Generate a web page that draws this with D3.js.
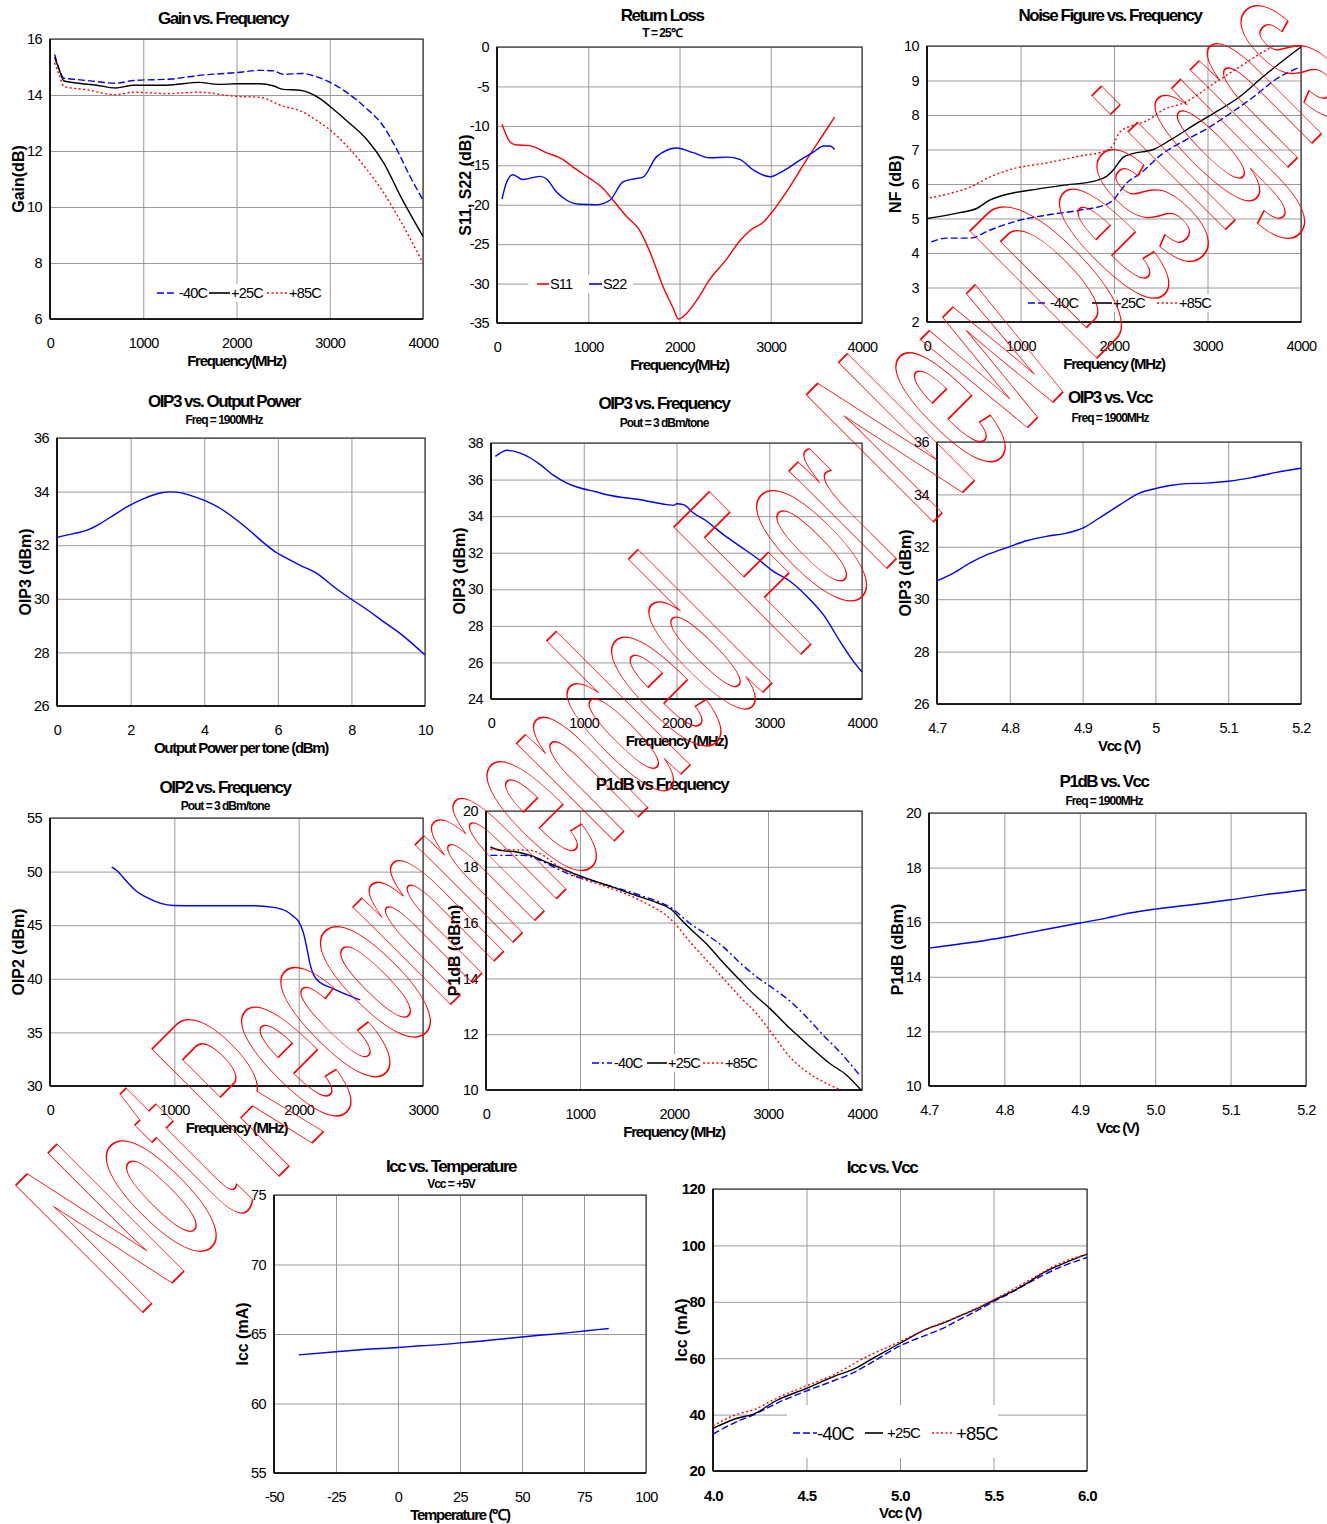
<!DOCTYPE html>
<html>
<head>
<meta charset="utf-8">
<script src="https://cdn.jsdelivr.net/npm/d3@7"></script>
<style>
  body { margin: 0; background: #fff; }
  svg { display: block; font-family: "Liberation Sans", Arial, sans-serif; }
  .grid line { stroke: #9a9a9a; stroke-width: 1; }
  .grid path { display: none; }
  .ax path, .ax line { display: none; }
  .ax text { font-size: 14.5px; letter-spacing: -0.6px; fill: #000; }
</style>
</head>
<body>
<svg id="chart" width="1327" height="1524"></svg>
<script>
// ---- data ----
const freqTicks4k = [0, 1000, 2000, 3000, 4000];
const freqTicks3k = [0, 1000, 2000, 3000];
const vccTicksA = [4.7, 4.8, 4.9, 5.0, 5.1, 5.2];
const vccLabelsA = ["4.7", "4.8", "4.9", "5", "5.1", "5.2"];
const vccLabelsB = ["4.7", "4.8", "4.9", "5.0", "5.1", "5.2"];
const vccTicksC = [4.0, 4.5, 5.0, 5.5, 6.0];
const vccLabelsC = ["4.0", "4.5", "5.0", "5.5", "6.0"];
const poutTicks = [0, 2, 4, 6, 8, 10];
const tempTicks = [-50, -25, 0, 25, 50, 75, 100];
const tempLabels = ["-50", "-25", "0", "25", "50", "75", "100"];
const tempCategories = ["-40C", "+25C", "+85C"];

const gainM40 = [[50,15.45],[100,14.9],[150,14.6],[300,14.55],[500,14.48],[700,14.42],[900,14.52],[1300,14.57],[1600,14.7],[2000,14.8],[2250,14.88],[2400,14.86],[2500,14.74],[2700,14.77],[2850,14.66],[3000,14.46],[3200,14.05],[3400,13.5],[3550,13.0],[3720,12.05],[3860,11.1],[4000,10.25]];
const gain25 = [[50,15.35],[100,14.9],[150,14.5],[280,14.43],[500,14.35],[700,14.25],[900,14.35],[1250,14.35],[1600,14.45],[1800,14.38],[2000,14.4],[2250,14.4],[2400,14.32],[2500,14.2],[2680,14.17],[2900,13.86],[3000,13.6],[3200,13.03],[3400,12.4],[3580,11.57],[3760,10.38],[4000,8.95]];
const gain85 = [[50,15.15],[100,14.7],[150,14.3],[390,14.19],[700,14.01],[900,14.1],[1250,14.05],[1600,14.1],[2000,13.95],[2250,13.92],[2500,13.6],[2680,13.44],[2900,13.0],[3000,12.76],[3220,12.05],[3400,11.33],[3580,10.5],[3760,9.49],[4000,8.0]];

const s11 = [[55,-9.8],[140,-12.0],[200,-12.4],[360,-12.5],[540,-13.4],[720,-14.25],[830,-15.2],[1020,-16.7],[1160,-17.9],[1270,-19.4],[1420,-21.5],[1560,-23.2],[1680,-26.1],[1820,-30.4],[1930,-33.1],[1990,-34.5],[2040,-34.2],[2190,-32.1],[2330,-29.5],[2510,-27.0],[2660,-24.6],[2770,-23.3],[2920,-22.2],[3030,-20.7],[3210,-17.7],[3390,-14.35],[3580,-11.0],[3700,-8.9]];
const s22 = [[55,-19.3],[100,-17.3],[175,-16.2],[280,-16.8],[470,-16.4],[540,-16.7],[650,-18.35],[760,-19.4],[910,-19.95],[1090,-20.0],[1240,-19.4],[1380,-17.1],[1490,-16.75],[1600,-16.5],[1750,-13.9],[1970,-12.8],[2150,-13.4],[2330,-14.05],[2520,-13.97],[2660,-14.25],[2810,-15.6],[2990,-16.45],[3140,-15.7],[3320,-14.35],[3470,-13.3],[3580,-12.55],[3650,-12.55],[3700,-13.0]];

const nfM40 = [[45,4.32],[210,4.43],[460,4.43],[670,4.66],[990,4.95],[1280,5.1],[1630,5.24],[1920,5.41],[1990,5.53],[2060,5.77],[2130,6.01],[2280,6.3],[2520,6.88],[2770,7.28],[2990,7.6],[3240,8.04],[3490,8.52],[3740,9.05],[3990,9.39]];
const nf25 = [[0,5.0],[350,5.17],[530,5.29],[670,5.53],[920,5.74],[1100,5.82],[1450,5.96],[1810,6.1],[1920,6.22],[1990,6.4],[2100,6.78],[2200,6.88],[2420,7.0],[2600,7.27],[2880,7.75],[3060,8.04],[3340,8.52],[3590,9.1],[3810,9.58],[4000,9.97]];
const nf85 = [[30,5.6],[210,5.7],[460,5.91],[670,6.2],[920,6.44],[1280,6.61],[1630,6.81],[1920,6.97],[1990,7.12],[2060,7.5],[2200,7.7],[2350,7.83],[2520,8.14],[2770,8.38],[3060,8.9],[3340,9.39],[3630,9.89],[3700,10.0]];

const oip3Pout = [[0,32.29],[0.45,32.43],[0.82,32.56],[1.18,32.81],[1.54,33.12],[1.9,33.43],[2.36,33.74],[2.81,33.95],[3.08,33.99],[3.35,33.96],[3.62,33.86],[3.99,33.68],[4.44,33.37],[4.89,32.93],[5.25,32.53],[5.53,32.19],[5.98,31.71],[6.16,31.57],[6.61,31.25],[7.07,30.94],[7.52,30.45],[7.97,30.01],[8.42,29.6],[8.88,29.14],[9.33,28.7],[10,27.9]];
const oip3Freq = [[47,37.27],[100,37.45],[172,37.6],[316,37.45],[424,37.18],[531,36.82],[675,36.23],[819,35.81],[962,35.54],[1142,35.32],[1250,35.17],[1609,34.9],[1896,34.63],[1968,34.59],[2004,34.68],[2075,34.63],[2183,34.17],[2327,33.72],[2506,32.99],[2686,32.35],[2865,31.71],[3045,30.98],[3224,30.44],[3404,29.62],[3583,28.61],[3763,27.15],[3907,26.06],[4000,25.48]];
const oip3Vcc = [[4.7,30.7],[4.722,30.99],[4.745,31.38],[4.768,31.69],[4.8,32.01],[4.823,32.23],[4.85,32.4],[4.878,32.52],[4.9,32.71],[4.923,33.1],[4.951,33.6],[4.978,34.05],[5.0,34.22],[5.02,34.34],[5.042,34.41],[5.07,34.43],[5.1,34.5],[5.134,34.65],[5.166,34.84],[5.2,35.0]];

const oip2 = [[496,50.42],[537,50.11],[617,49.08],[698,48.15],[778,47.59],[885,47.06],[993,46.84],[1207,46.81],[1637,46.81],[1798,46.66],[1905,46.28],[1959,45.82],[1999,45.35],[2039,44.26],[2066,42.86],[2093,41.3],[2120,40.37],[2173,39.65],[2254,39.21],[2361,38.65],[2495,38.03]];

const p1dbM40 = [[46,18.41],[400,18.41],[577,18.23],[754,17.94],[931,17.67],[1108,17.52],[1356,17.28],[1639,16.98],[1993,16.47],[2170,15.97],[2347,15.57],[2524,15.13],[2701,14.56],[2878,14.06],[3055,13.64],[3232,13.19],[3409,12.62],[3586,11.97],[3763,11.37],[3965,10.57]];
const p1db25 = [[46,18.71],[152,18.59],[329,18.53],[471,18.41],[683,18.11],[931,17.76],[1108,17.54],[1356,17.26],[1639,16.92],[1816,16.72],[1993,16.41],[2064,16.15],[2170,15.79],[2347,15.23],[2524,14.56],[2701,13.94],[2878,13.34],[3002,12.98],[3232,12.21],[3409,11.67],[3657,10.95],[3834,10.54],[3990,10.0]];
const p1db85 = [[46,18.62],[471,18.59],[577,18.47],[754,18.05],[931,17.7],[1285,17.28],[1639,16.8],[1993,16.03],[2170,15.31],[2347,14.65],[2524,14.0],[2701,13.34],[2878,12.74],[3055,11.97],[3232,11.19],[3409,10.66],[3586,10.3],[3763,10.02]];
const p1dbVcc = [[4.7,15.05],[4.8,15.45],[4.829,15.6],[4.9,15.97],[4.935,16.15],[4.954,16.27],[5.0,16.48],[5.055,16.66],[5.1,16.82],[5.144,17.0],[5.2,17.19]];

const iccTemp = [[-40,63.5],[-25,63.72],[-14,63.88],[0,64.03],[9,64.15],[21,64.29],[25,64.36],[33,64.48],[44,64.68],[56,64.89],[67,65.06],[76,65.23],[85,65.4]];
const iccM40 = [[4.0,33.1],[4.128,37.5],[4.217,39.9],[4.34,44.0],[4.5,48.4],[4.645,52.0],[4.752,54.9],[4.841,58.2],[5.0,64.4],[5.144,68.3],[5.233,70.7],[5.323,73.85],[5.43,77.5],[5.5,80.1],[5.59,83.1],[5.68,86.4],[5.77,89.6],[5.857,92.3],[6.0,95.7]];
const icc25 = [[4.0,35.1],[4.128,38.7],[4.217,40.2],[4.34,45.0],[4.5,49.3],[4.645,53.5],[4.752,56.1],[4.841,59.4],[5.0,65.3],[5.144,70.4],[5.233,72.5],[5.323,75.1],[5.43,78.1],[5.5,80.5],[5.59,83.3],[5.68,86.6],[5.77,90.4],[5.857,93.1],[6.0,96.9]];
const icc85 = [[4.0,36.0],[4.128,40.1],[4.217,41.7],[4.34,45.8],[4.5,50.2],[4.645,54.1],[4.8,59.8],[5.0,65.9],[5.144,70.4],[5.323,75.1],[5.5,80.7],[5.68,87.2],[5.857,93.7],[6.0,96.9]];

const watermarkText = "Not Recommended For New Designs";

// ---- styles ----
const BLUE = "#0000ff", RED = "#ff0000", BLACK = "#000";
const dashed = "7 3", dotted = "2 2.5", dashDot = "7 3 2 3";
const st = {
  m40: { color: BLUE, dash: dashed },
  p25: { color: BLACK, dash: null },
  p85: { color: RED, dash: dotted }
};
const rng = (a, b, s) => d3.range(a, b + s / 2, s);

const panels = [
  { box: [50, 39, 423, 319], x: [0, 4000], xt: freqTicks4k, y: [6, 16], yt: rng(6, 16, 2),
    title: "Gain vs. Frequency", tx: 223, ty: 24, xlab: "Frequency(MHz)", ylab: "Gain(dB)",
    series: [[gainM40, st.m40], [gain25, st.p25], [gain85, st.p85]],
    legend: { y: 293, bg: [152, 284, 325, 302], items: [[157, 20, 179], [209, 21, 231], [267, 20, 289]],
      names: tempCategories, styles: [st.m40, st.p25, st.p85] } },
  { box: [497, 47, 862, 323], x: [0, 4000], xt: freqTicks4k, y: [-35, 0], yt: rng(-35, 0, 5),
    title: "Return Loss", tx: 662, ty: 21, sub: "T = 25\u2103", sy: 37, xlab: "Frequency(MHz)", ylab: "S11, S22 (dB)",
    series: [[s11, { color: RED }], [s22, { color: BLUE }]],
    legend: { y: 284, bg: [528, 275, 633, 293], items: [[537, 12, 550], [589, 13, 603]],
      names: ["S11", "S22"], styles: [{ color: RED }, { color: BLUE }] } },
  { box: [927, 46, 1301, 322], x: [0, 4000], xt: freqTicks4k, y: [2, 10], yt: rng(2, 10, 1),
    title: "Noise Figure vs. Frequency", tx: 1110, ty: 21, xlab: "Frequency (MHz)", ylab: "NF (dB)",
    series: [[nfM40, st.m40], [nf25, st.p25], [nf85, st.p85]],
    legend: { y: 303, bg: [1022, 294, 1215, 312], items: [[1028, 20, 1050], [1092, 20, 1113], [1157, 20, 1179]],
      names: tempCategories, styles: [st.m40, st.p25, st.p85] } },
  { box: [57, 438, 425, 706], x: [0, 10], xt: poutTicks, y: [26, 36], yt: rng(26, 36, 2),
    title: "OIP3 vs. Output Power", tx: 224, ty: 407, sub: "Freq = 1900MHz", sy: 424,
    xlab: "Output Power per tone (dBm)", ylab: "OIP3 (dBm)", series: [[oip3Pout, { color: BLUE }]] },
  { box: [491, 443, 862, 699], x: [0, 4000], xt: freqTicks4k, y: [24, 38], yt: rng(24, 38, 2),
    title: "OIP3 vs. Frequency", tx: 664, ty: 409, sub: "Pout = 3 dBm/tone", sy: 427,
    xlab: "Frequency (MHz)", ylab: "OIP3 (dBm)", series: [[oip3Freq, { color: BLUE }]] },
  { box: [937, 442, 1301, 704], x: [4.7, 5.2], xt: vccTicksA, xl: vccLabelsA, y: [26, 36], yt: rng(26, 36, 2),
    title: "OIP3 vs. Vcc", tx: 1110, ty: 403, sub: "Freq = 1900MHz", sy: 422,
    xlab: "Vcc (V)", ylab: "OIP3 (dBm)", series: [[oip3Vcc, { color: BLUE }]] },
  { box: [50, 818, 423, 1086], x: [0, 3000], xt: freqTicks3k, y: [30, 55], yt: rng(30, 55, 5),
    title: "OIP2 vs. Frequency", tx: 225, ty: 793, sub: "Pout = 3 dBm/tone", sy: 810,
    xlab: "Frequency (MHz)", ylab: "OIP2 (dBm)", series: [[oip2, { color: BLUE }]] },
  { box: [486, 811, 862, 1090], x: [0, 4000], xt: freqTicks4k, y: [10, 20], yt: rng(10, 20, 2),
    title: "P1dB vs Frequency", tx: 662, ty: 790, xlab: "Frequency (MHz)", ylab: "P1dB (dBm)",
    series: [[p1dbM40, { color: BLUE, dash: dashDot }], [p1db25, st.p25], [p1db85, st.p85]],
    legend: { y: 1063, bg: [587, 1054, 762, 1072], items: [[592, 20, 614], [647, 20, 668], [703, 20, 725]],
      names: tempCategories, styles: [{ color: BLUE, dash: dashDot }, st.p25, st.p85] } },
  { box: [929, 813, 1306, 1086], x: [4.7, 5.2], xt: vccTicksA, xl: vccLabelsB, y: [10, 20], yt: rng(10, 20, 2),
    title: "P1dB vs. Vcc", tx: 1104, ty: 787, sub: "Freq = 1900MHz", sy: 805,
    xlab: "Vcc (V)", ylab: "P1dB (dBm)", series: [[p1dbVcc, { color: BLUE }]] },
  { box: [274, 1195, 646, 1473], x: [-50, 100], xt: tempTicks, xl: tempLabels, y: [55, 75], yt: rng(55, 75, 5),
    title: "Icc vs. Temperature", tx: 451, ty: 1172, sub: "Vcc = +5V", sy: 1188,
    xlab: "Temperature (\u2103)", ylab: "Icc (mA)", series: [[iccTemp, { color: BLUE }]] },
  { box: [713, 1189, 1087, 1471], x: [4.0, 6.0], xt: vccTicksC, xl: vccLabelsC, y: [20, 120], yt: rng(20, 120, 20),
    title: "Icc vs. Vcc", tx: 882, ty: 1173, xlab: "Vcc (V)", ylab: "Icc (mA)", boldTicks: true,
    series: [[iccM40, st.m40], [icc25, st.p25], [icc85, st.p85]],
    legend: { y: 1433, bg: [787, 1405, 998, 1458], items: [[793, 24, 817, 18.5], [865, 18, 887, 15], [932, 20, 956, 18.5]],
      names: tempCategories, styles: [st.m40, st.p25, st.p85] } }
];

const svg = d3.select("#chart");

panels.forEach((p, pi) => {
  const [x0, y0, x1, y1] = p.box;
  const w = x1 - x0, h = y1 - y0;
  const x = d3.scaleLinear().domain(p.x).range([0, w]);
  const y = d3.scaleLinear().domain(p.y).range([h, 0]);
  const g = svg.append("g").attr("transform", `translate(${x0},${y0})`);

  // grid
  g.append("g").attr("class", "grid").attr("transform", `translate(0,${h})`)
    .call(d3.axisBottom(x).tickValues(p.xt).tickSize(-h).tickFormat(""));
  g.append("g").attr("class", "grid")
    .call(d3.axisLeft(y).tickValues(p.yt).tickSize(-w).tickFormat(""));

  // frame
  g.append("rect").attr("width", w).attr("height", h)
    .attr("fill", "none").attr("stroke", "#3a3a3a").attr("stroke-width", 1.2);
  g.append("line").attr("x1", 0).attr("x2", 0).attr("y1", 0).attr("y2", h)
    .attr("stroke", "#000").attr("stroke-width", 1.6);
  g.append("line").attr("x1", 0).attr("x2", w).attr("y1", h).attr("y2", h)
    .attr("stroke", "#000").attr("stroke-width", 1.6);

  // tick labels
  const xa = g.append("g").attr("class", "ax").attr("transform", `translate(0,${h})`)
    .call(d3.axisBottom(x).tickValues(p.xt).tickSize(0).tickPadding(19)
      .tickFormat((d, i) => p.xl ? p.xl[i] : String(d)));
  const ya = g.append("g").attr("class", "ax")
    .call(d3.axisLeft(y).tickValues(p.yt).tickSize(0).tickPadding(8).tickFormat(d => String(d)));
  xa.attr("font-family", null).attr("font-size", null);
  ya.attr("font-family", null).attr("font-size", null);
  if (p.boldTicks) {
    xa.selectAll("text").attr("font-weight", "bold").style("font-size", "15px");
    ya.selectAll("text").attr("font-weight", "bold").style("font-size", "15px");
  }

  // lines
  const clipId = "clip" + pi;
  g.append("clipPath").attr("id", clipId).append("rect")
    .attr("x", -1).attr("y", -1).attr("width", w + 2).attr("height", h + 2);
  const line = d3.line().x(d => x(d[0])).y(d => y(d[1])).curve(d3.curveMonotoneX);
  p.series.forEach(([data, s]) => {
    g.append("path").attr("d", line(data)).attr("clip-path", `url(#${clipId})`)
      .attr("fill", "none").attr("stroke", s.color).attr("stroke-width", 1.4)
      .attr("stroke-dasharray", s.dash || null);
  });

  // titles
  svg.append("text").attr("x", p.tx).attr("y", p.ty).attr("text-anchor", "middle")
    .attr("font-weight", "bold").attr("font-size", 17).attr("letter-spacing", "-1.5px")
    .text(p.title);
  if (p.sub) {
    svg.append("text").attr("x", p.tx).attr("y", p.sy).attr("text-anchor", "middle")
      .attr("font-weight", "bold").attr("font-size", 12).attr("letter-spacing", "-1px")
      .text(p.sub);
  }
  svg.append("text").attr("x", x0 + w / 2).attr("y", y1 + 47).attr("text-anchor", "middle")
    .attr("font-weight", "bold").attr("font-size", 15).attr("letter-spacing", "-1.3px")
    .text(p.xlab);
  svg.append("text").attr("transform", `translate(${x0 - 26},${y0 + h / 2}) rotate(-90)`)
    .attr("text-anchor", "middle").attr("font-weight", "bold").attr("font-size", 16)
    .text(p.ylab);

  // legend
  if (p.legend) {
    const L = p.legend;
    svg.append("rect").attr("x", L.bg[0]).attr("y", L.bg[1])
      .attr("width", L.bg[2] - L.bg[0]).attr("height", L.bg[3] - L.bg[1]).attr("fill", "#fff");
    L.items.forEach((it, i) => {
      const s = L.styles[i];
      svg.append("line").attr("x1", it[0]).attr("x2", it[0] + it[1]).attr("y1", L.y).attr("y2", L.y)
        .attr("stroke", s.color).attr("stroke-width", 1.6).attr("stroke-dasharray", s.dash || null);
      const fs = it[3] || 14.5;
      svg.append("text").attr("x", it[2]).attr("y", L.y + fs * 0.36).attr("font-size", fs)
        .attr("letter-spacing", "-0.8px").text(L.names[i]);
    });
  }
});

// watermark
const wm = svg.append("text")
  .attr("font-size", 261).attr("font-weight", "bold")
  .attr("fill", "none").attr("stroke", RED).attr("stroke-width", 1.3)
  .attr("vector-effect", "non-scaling-stroke")
  .text(watermarkText);
const natural = wm.node().getComputedTextLength();
const sx = 1735 / natural;
wm.attr("transform", `translate(138,1317) rotate(-45) scale(${sx},1)`);
</script>
</body>
</html>
